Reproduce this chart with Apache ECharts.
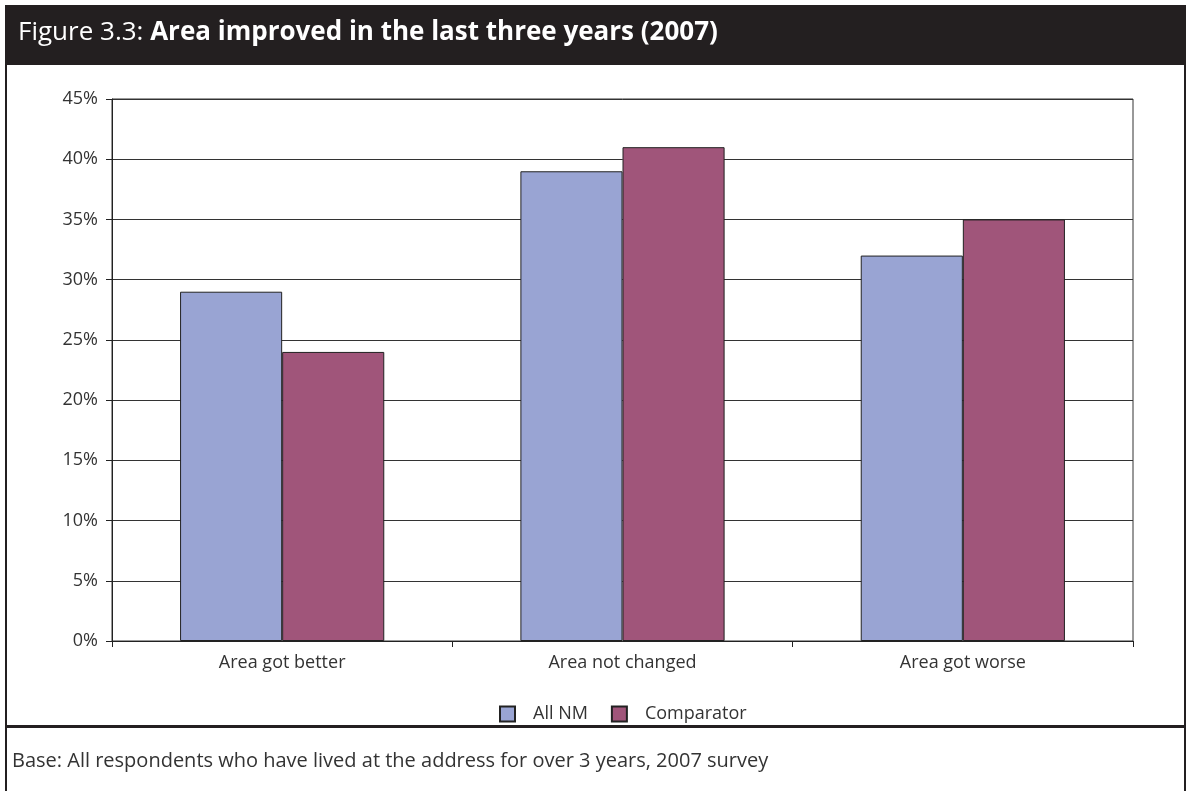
<!DOCTYPE html>
<html>
<head>
<meta charset="utf-8">
<script src="https://cdn.jsdelivr.net/npm/echarts@6/dist/echarts.min.js"></script>
<style>
  html, body { margin: 0; padding: 0; background: #fff; }
  #chart { width: 1189px; height: 791px; }
</style>
</head>
<body>
<div id="chart"></div>
<script>
  // 数据
  var categories = ['Area got better', 'Area not changed', 'Area got worse'];
  var allNM = [29, 39, 32];
  var comparator = [24, 41, 35];
  var yTicks = [0, 5, 10, 15, 20, 25, 30, 35, 40, 45];

  var font = '"Open Sans", "Noto Sans", sans-serif';
  var myChart = echarts.init(document.getElementById('chart'));

  myChart.setOption({
    animation: false,
    textStyle: { fontFamily: font },
    title: {
      text: '{n|Figure 3.3: }{b|Area improved in the last three years (2007)}',
      left: 13,
      top: 15,
      textStyle: {
        rich: {
          n: { color: '#fff', fontSize: 26, fontWeight: 'normal', fontFamily: font },
          b: { color: '#fff', fontSize: 26, fontWeight: 'bold', fontFamily: font }
        }
      }
    },
    graphic: [
      // 标题栏
      { type: 'rect', z: -1, shape: { x: 5, y: 6, width: 1181, height: 59 }, style: { fill: '#231f20' } },
      // 外框
      { type: 'rect', shape: { x: 6, y: 6, width: 1179, height: 800 }, style: { fill: 'none', stroke: '#231f20', lineWidth: 2 } },
      // 分隔线
      { type: 'rect', shape: { x: 6, y: 725, width: 1179, height: 3 }, style: { fill: '#231f20' } },
      {
        type: 'text', left: 12, top: 751,
        style: { text: 'Base: All respondents who have lived at the address for over 3 years, 2007 survey', fill: '#333', font: '20px ' + font }
      }
    ],
    legend: {
      left: 494,
      top: 700,
      icon: 'rect',
      itemWidth: 15,
      itemHeight: 15,
      itemGap: 23,
      textStyle: { fontSize: 18, color: '#333', fontFamily: font, padding: [0, 0, 0, 13] },
      data: ['All NM', 'Comparator']
    },
    grid: {
      left: 112, right: 56, top: 99, height: 542,
      show: true, borderColor: '#333', borderWidth: 1
    },
    xAxis: {
      type: 'category',
      data: categories,
      axisLine: { lineStyle: { color: '#222' } },
      axisTick: { show: true, length: 6, lineStyle: { color: '#222' } },
      axisLabel: { fontSize: 18, color: '#333', margin: 13 }
    },
    yAxis: {
      type: 'value',
      min: yTicks[0],
      max: yTicks[yTicks.length - 1],
      interval: 5,
      axisLine: { show: true, lineStyle: { color: '#222' } },
      axisTick: { show: true, length: 6, lineStyle: { color: '#222' } },
      axisLabel: { fontSize: 18, color: '#333', margin: 14, formatter: '{value}%' },
      splitLine: { lineStyle: { color: '#333' } }
    },
    series: [{
      name: 'All NM',
      type: 'bar',
      barGap: '0%',
      barCategoryGap: '40%',
      itemStyle: { color: '#99a4d3', borderColor: '#222', borderWidth: 1 },
      data: allNM
    }, {
      name: 'Comparator',
      type: 'bar',
      itemStyle: { color: '#a0557a', borderColor: '#222', borderWidth: 1 },
      data: comparator
    }]
  });
</script>
</body>
</html>
